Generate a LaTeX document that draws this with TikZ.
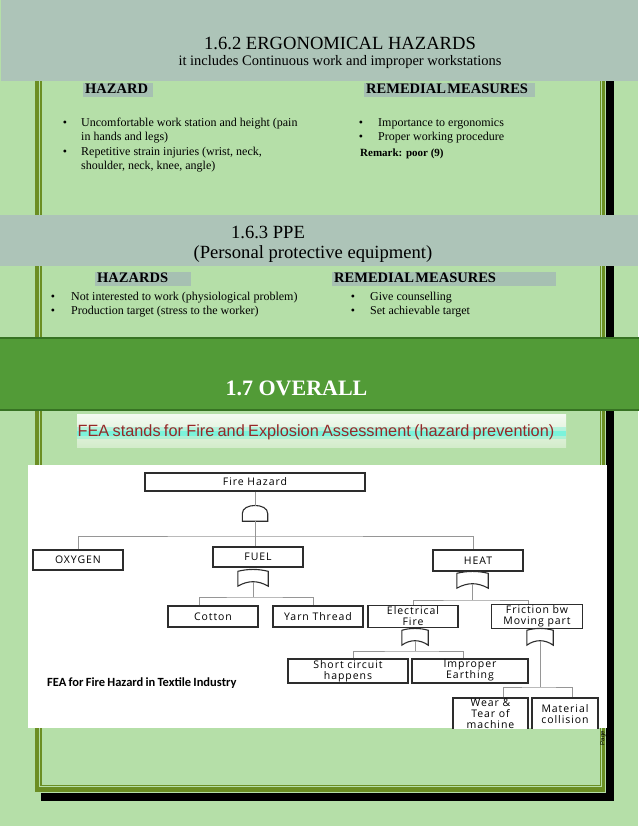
\documentclass[tikz,border=0pt]{standalone}
\usepackage{fontspec}
\setmainfont{Liberation Serif}
\newfontfamily\arialf{Liberation Sans}
\newfontfamily\diagf[LetterSpace=9]{Open Sans}
\newfontfamily\calf{Carlito}
\usetikzlibrary{calc}
\definecolor{bg}{RGB}{181,223,168}
\definecolor{graybar}{RGB}{173,196,184}
\definecolor{hdrbox}{RGB}{166,192,178}
\definecolor{olivec}{RGB}{107,142,35}
\definecolor{greenbar}{RGB}{82,155,55}
\definecolor{darkgreen}{RGB}{55,115,35}
\definecolor{fearred}{RGB}{150,40,40}
\definecolor{glow}{RGB}{90,240,210}
\definecolor{boxline}{RGB}{45,45,45}
\definecolor{connline}{RGB}{150,150,150}
\newcommand{\fsz}[2]{\fontsize{#1}{#2}\selectfont}
\newcommand{\andgate}[1]{\draw[gateline] (#1.south west) -- (#1.west) .. controls ($(#1.north west)+(0,-3)$) and ($(#1.north east)+(0,-3)$) .. (#1.east) -- (#1.south east) -- cycle;}
\newcommand{\orgate}[1]{\draw[gateline] ($(#1.north west)+(0,1.5)$) .. controls ($(#1.north)+(-5,-1)$) and ($(#1.north)+(5,-1)$) .. ($(#1.north east)+(0,1.5)$) -- (#1.south east) .. controls ($(#1.south)+(5,-6)$) and ($(#1.south)+(-5,-6)$) .. (#1.south west) -- cycle;}
\begin{document}
\begin{tikzpicture}[x=1pt,y=-1pt,
  body/.style={anchor=west, inner sep=0pt, font=\fsz{12}{14}, text height=8.5pt, text depth=2.5pt},
  bul/.style={body, anchor=center},
  hdr/.style={fill=hdrbox, anchor=north west, inner xsep=2pt, inner ysep=0pt, align=left, font=\bfseries\fsz{14.5}{15}, text height=10.5pt, text depth=3pt},
  box/.style={draw=boxline, line width=1.1pt, fill=white, font=\diagf\fsz{10.5}{11}, align=center, inner sep=1pt},
  gatebox/.style n args={2}{draw=none, inner sep=0pt, minimum width=#1, minimum height=#2},
  gateline/.style={draw=boxline, line width=1.1pt, fill=white},
  conn/.style={draw=connline, line width=0.9pt}]
\fill[bg] (0,0) rectangle (638,826);
\useasboundingbox (0,0) rectangle (638,826);
% page frame
\fill[black] (605.5,81) rectangle (613.5,800.5);
\fill[black] (41,792.5) rectangle (613.5,800.5);
\fill[olivec] (35,81) rectangle (39,792);
\fill[olivec] (40,81) rectangle (41.5,786);
\fill[olivec] (601.5,81) rectangle (605,792);
\fill[olivec] (599.5,81) rectangle (600.5,786);
\fill[olivec] (35,787) rectangle (605,792);
\fill[olivec] (40,784.5) rectangle (600.5,785.8);
% 1.6.2
\fill[graybar] (1,0) rectangle (638,81);
\node[font=\fsz{18.6}{20}, inner sep=0pt] (h162) at (340,43) {1.6.2 ERGONOMICAL HAZARDS};
\node[font=\fsz{14.5}{16}, inner sep=0pt] (h162s) at (340,62) {it includes Continuous work and improper workstations};
\node[hdr, text width=66pt] (hz1) at (83,83) {HAZARD};
\node[hdr, text width=167pt] (rm1) at (364,83) {{\spaceskip=1.5pt REMEDIAL MEASURES}};
\node[bul] (ba1) at (65,124) {•};
\node[body] (ta1) at (81,124) {Uncomfortable work station and height (pain};
\node[body] (ta2) at (81,137.5) {in hands and legs)};
\node[bul] (ba2) at (65,153) {•};
\node[body] (ta3) at (81,153) {Repetitive strain injuries (wrist, neck,};
\node[body] (ta4) at (81,166.5) {shoulder, neck, knee, angle)};
\node[bul] (bb1) at (361,124) {•};
\node[body] (tb1) at (378,124) {Importance to ergonomics};
\node[bul] (bb2) at (361,138) {•};
\node[body] (tb2) at (378,138) {Proper working procedure};
\node[body, font=\bfseries\fsz{11}{13}] (tb3) at (360,154) {Remark: poor (9)};
% 1.6.3
\fill[graybar] (0,215) rectangle (638,266);
\node[font=\fsz{18.6}{20}, inner sep=0pt] (h163) at (268,232) {1.6.3 PPE};
\node[font=\fsz{18.6}{20}, inner sep=0pt] (h163s) at (313,254) {(Personal protective equipment)};
\node[hdr, text width=92pt] (hz2) at (95,272) {HAZARDS};
\node[hdr, text width=220pt] (rm2) at (332,272) {{\spaceskip=1.5pt REMEDIAL MEASURES}};
\node[bul] (bc1) at (53,297) {•};
\node[body] (tc1) at (71,297) {Not interested to work (physiological problem)};
\node[bul] (bc2) at (53,311) {•};
\node[body] (tc2) at (71,311) {Production target (stress to the worker)};
\node[bul] (bd1) at (353,297) {•};
\node[body] (td1) at (370,297) {Give counselling};
\node[bul] (bd2) at (353,311) {•};
\node[body] (td2) at (370,311) {Set achievable target};
% 1.7
\draw[fill=greenbar, draw=darkgreen, line width=1.2pt] (-2,338) rectangle (640,410);
\node[font=\bfseries\fsz{22}{24}, text=white, inner sep=0pt] (h17) at (296.5,388) {1.7 OVERALL};
\shade[top color=white!85!bg, bottom color=bg!60!white] (77,414) rectangle (566,447);
\fill[glow, opacity=0.35] (77,427) rectangle (566,439);
\fill[glow!80!white] (77,430.5) rectangle (566,435.5);
\node[font=\arialf\fsz{16.3}{18}, text=fearred, inner sep=0pt] (fea) at (316,432) {{\spaceskip=3.3pt FEA stands for Fire and Explosion Assessment (hazard prevention)}};
% diagram
\fill[white] (28,465) rectangle (607,728);
\begin{scope}
\clip (28,465) rectangle (607,728);
\node[box, minimum width=220pt, minimum height=18pt] (fh) at (255,482) {Fire Hazard};
\node[gatebox={25pt}{15pt}] (g1) at (255,513.5) {};
\andgate{g1}
\node[box, minimum width=90pt, minimum height=20pt] (oxy) at (78,560) {OXYGEN};
\node[box, minimum width=90pt, minimum height=20pt] (fuel) at (258,557) {FUEL};
\node[gatebox={30pt}{16pt}] (g2) at (253,578) {};
\orgate{g2}
\node[box, minimum width=90pt, minimum height=21pt] (cotton) at (213,616.5) {Cotton};
\node[box, minimum width=90pt, minimum height=21pt] (yarn) at (318,616.5) {Yarn Thread};
\node[box, minimum width=90pt, minimum height=21pt] (heat) at (478,560.5) {HEAT};
\node[gatebox={31pt}{16pt}] (g3) at (472.5,580) {};
\orgate{g3}
\node[box, minimum width=90pt, minimum height=22pt] (elec) at (413,616.5) {Electrical\\Fire};
\node[box, minimum width=91pt, minimum height=22pt] (fric) at (537,616.5) {Friction bw\\Moving part};
\node[gatebox={26pt}{16pt}] (g4) at (415,637) {};
\orgate{g4}
\node[gatebox={26pt}{16pt}] (g5) at (540,637) {};
\orgate{g5}
\node[box, minimum width=120pt, minimum height=24pt] (sc) at (348,671) {Short circuit\\happens};
\node[box, minimum width=116pt, minimum height=24pt] (ie) at (470,671) {Improper\\Earthing};
\node[box, minimum width=75pt, minimum height=32pt] (wear) at (490.5,714) {Wear \&\\Tear of\\machine};
\node[box, minimum width=66pt, minimum height=32pt] (mat) at (565,714) {Material\\collision};
% connectors
\coordinate (bus1) at (255,536);
\coordinate (bus2) at (253,597);
\coordinate (bus3) at (472.5,600);
\coordinate (bus4) at (415,651);
\coordinate (bus5) at (540,687);
\draw[conn] (fh) -- (g1);
\draw[conn] (g1.south) -- (g1.south |- fuel.north);
\draw[conn] (oxy.north) |- (bus1) -| ($(heat.north)+(-5,0)$);
\draw[conn] ($(g2.south)+(0,-4.5)$) -- (bus2);
\draw[conn] ($(cotton.north)+(-14,0)$) |- (bus2) -| ($(yarn.north)+(-5,0)$);
\draw[conn] ($(g3.south)+(0,-4.5)$) -- (bus3);
\draw[conn] (elec.north) |- (bus3) -| ($(fric.north)+(-9,0)$);
\draw[conn] ($(g4.south)+(0,-4.5)$) -- (bus4);
\draw[conn] ($(sc.north)+(5,0)$) |- (bus4) -| ($(ie.north)+(-7,0)$);
\draw[conn] ($(g5.south)+(0,-4.5)$) -- (bus5);
\draw[conn] ($(wear.north)+(12.5,0)$) |- (bus5) -| ($(mat.north)+(7,0)$);
\node[anchor=west, inner sep=0pt, font=\calf\bfseries\fsz{12.5}{14}] (cap) at (47,683) {{\spaceskip=2.2pt FEA for Fire Hazard in Textile Industry}};
\end{scope}
\node[rotate=90, font=\arialf\fsz{6}{6}, inner sep=0pt] (pg) at (603,738) {Page};
\end{tikzpicture}
\end{document}
